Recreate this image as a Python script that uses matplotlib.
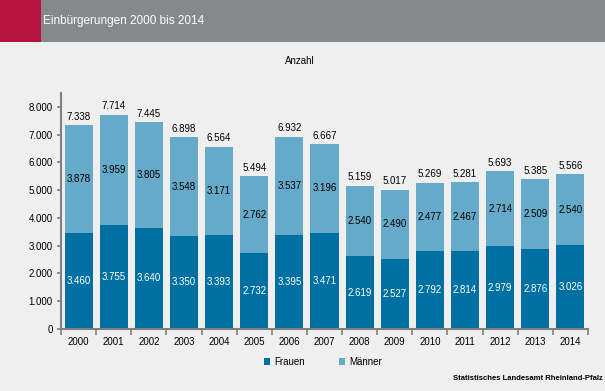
import matplotlib.pyplot as plt
import numpy as np
from matplotlib.patches import Rectangle

plt.rcParams['font.family'] = ['Liberation Sans', 'DejaVu Sans']

years = ['2000', '2001', '2002', '2003', '2004', '2005', '2006', '2007',
         '2008', '2009', '2010', '2011', '2012', '2013', '2014']
frauen = [3460, 3755, 3640, 3350, 3393, 2732, 3395, 3471,
          2619, 2527, 2792, 2814, 2979, 2876, 3026]
maenner = [3878, 3959, 3805, 3548, 3171, 2762, 3537, 3196,
           2540, 2490, 2477, 2467, 2714, 2509, 2540]
totals = [7338, 7714, 7445, 6898, 6564, 5494, 6932, 6667,
          5159, 5017, 5269, 5281, 5693, 5385, 5566]

bg = '#EEEFEE'
c_frauen = '#0070A2'
c_maenner = '#66AAC9'


def fmt(v):
    return '{:,}'.format(v).replace(',', '.')


fig = plt.figure(figsize=(6.05, 3.91), dpi=100, facecolor=bg)

# header band
fig.patches.append(Rectangle((0, 1 - 42 / 391), 1, 42 / 391, transform=fig.transFigure,
                             facecolor='#878889', edgecolor='none', zorder=0))
fig.patches.append(Rectangle((0, 1 - 42 / 391), 41 / 605, 42 / 391, transform=fig.transFigure,
                             facecolor='#B5123F', edgecolor='none', zorder=1))
fig.text(43 / 605, 1 - 21 / 391, 'Einbürgerungen 2000 bis 2014', color='white',
         fontsize=8.5, va='center', ha='left')
fig.text(300 / 605, 1 - 61 / 391, 'Anzahl', fontsize=7, ha='center', va='center')

ax = fig.add_axes([61 / 605, 1 - 329 / 391, 527 / 605, 236 / 391])
ax.set_facecolor(bg)

x = np.arange(len(years))
ax.bar(x, frauen, width=0.8, color=c_frauen, label='Frauen')
ax.bar(x, maenner, width=0.8, bottom=frauen, color=c_maenner, label='Männer')

for i in range(len(years)):
    ax.text(x[i], frauen[i] / 2, fmt(frauen[i]), ha='center', va='center',
            color='white', fontsize=7)
    ax.text(x[i], frauen[i] + maenner[i] / 2, fmt(maenner[i]), ha='center',
            va='center', color='black', fontsize=7)
    ax.text(x[i], totals[i] + 120, fmt(totals[i]), ha='center', va='bottom',
            color='black', fontsize=7)

ax.set_xlim(-0.5, len(years) - 0.5)
ax.set_ylim(0, 8500)
ax.set_yticks(np.arange(0, 8001, 1000))
ax.set_yticklabels([fmt(v) for v in range(0, 8001, 1000)], fontsize=7)
ax.set_xticks(x)
ax.set_xticklabels(years, fontsize=7)
ax.tick_params(axis='x', length=0, pad=6)
ax.set_xticks(np.arange(-0.5, len(years), 1), minor=True)
ax.tick_params(axis='x', which='minor', length=4, color='#808080', width=1.2)
ax.tick_params(axis='y', length=3, color='#808080', width=1.2, pad=3)

for s in ['top', 'right']:
    ax.spines[s].set_visible(False)
for s in ['left', 'bottom']:
    ax.spines[s].set_color('#808080')
    ax.spines[s].set_linewidth(1.5)

leg = fig.legend(loc='center', bbox_to_anchor=(323 / 605, 1 - 362 / 391), ncol=2,
                 frameon=False, fontsize=7, handlelength=0.6, handleheight=0.6,
                 handletextpad=0.4, columnspacing=3.6)

fig.text(603 / 605, 1 - 378 / 391, 'Statistisches Landesamt Rheinland-Pfalz',
         fontsize=5.5, fontweight='bold', ha='right', va='center')

fig.savefig('out.png', dpi=100, facecolor=bg)
